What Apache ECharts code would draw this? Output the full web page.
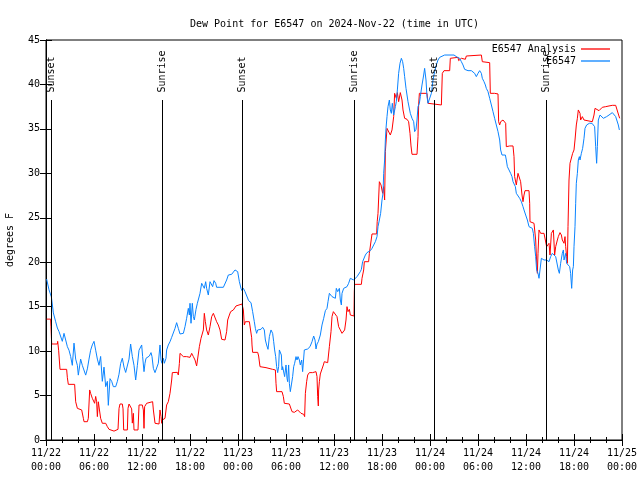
<!DOCTYPE html>
<html><head><meta charset="utf-8">
<script src="https://cdn.jsdelivr.net/npm/echarts@6/dist/echarts.min.js"></script>
<style>html,body{margin:0;padding:0;background:#fff}#c{width:640px;height:480px}</style>
</head><body><div id="c"></div><script>
const chartTitle = 'Dew Point for E6547 on 2024-Nov-22 (time in UTC)';
const seriesNames = ['E6547 Analysis', 'E6547'];
const yAxisName = 'degrees F';
const startMonth = 11, startDay = 22;
// [hours since 2024-11-22 00:00 UTC, dew point F]
const analysis = [[0.08,13.6],[0.58,13.6],[0.62,12.8],[0.67,12.8],[0.71,10.8],[1.42,10.8],[1.46,11.1],[1.54,11.1],[1.58,10.1],[1.71,10.1],[1.75,7.95],[2.58,7.95],[2.67,7.0],[2.79,6.26],[3.58,6.26],[3.71,4.3],[3.92,3.56],[4.12,3.38],[4.46,3.38],[4.58,3.2],[4.67,2.44],[4.75,2.06],[5.17,2.06],[5.29,2.44],[5.46,5.63],[5.58,5.25],[5.79,4.69],[5.92,4.9],[6.08,4.13],[6.21,4.9],[6.33,4.3],[6.42,2.63],[6.54,4.3],[6.75,4.13],[6.83,2.44],[7.04,1.88],[7.46,1.88],[7.67,1.5],[7.88,1.2],[8.5,1.0],[9.0,1.2],[9.13,3.56],[9.25,4.05],[9.54,4.05],[9.63,3.5],[9.71,1.13],[10.17,1.13],[10.25,3.56],[10.38,4.05],[10.63,4.05],[10.71,3.5],[10.79,1.9],[10.92,3.0],[11.0,1.13],[11.5,1.13],[11.63,3.94],[12.04,3.94],
[12.17,3.38],[12.25,1.31],[12.33,3.75],[12.58,4.13],[12.79,4.31],[13.33,4.31],[13.42,3.38],[13.63,1.88],[14.13,1.8],[14.25,3.38],[14.38,2.63],[14.46,1.88],[14.54,2.25],[14.75,2.25],[14.875,2.44],[15.08,3.94],[15.29,4.31],[15.5,5.25],[15.71,6.75],[15.79,7.58],[16.42,7.61],[16.54,7.31],[16.67,8.6],[16.75,9.75],[16.96,9.56],[17.17,9.38],[17.375,9.19],[17.58,9.38],[17.79,9.56],[18.0,9.3],[18.21,9.75],[18.42,9.38],[18.625,9.0],[18.83,8.33],[19.04,8.33],[19.17,10.5],[19.375,11.44],[19.58,11.63],[19.67,12.38],[19.79,14.25],[19.92,13.31],[20.08,12.38],[20.29,11.81],[20.5,12.75],[20.71,13.88],[20.92,14.25],[21.125,14.44],[21.33,13.31],[21.54,12.94],[21.75,12.38],[21.96,11.33],[22.17,11.33],[22.375,11.25],[22.58,12.19],[22.71,13.5],[22.92,14.06],[23.08,14.44],[23.42,14.63],
[23.75,15.08],[23.96,15.3],[24.5,15.3],[24.58,15.19],[24.67,14.63],[24.79,12.94],[24.92,13.31],[25.42,13.31],[25.625,13.13],[25.71,11.5],[25.75,10.69],[25.83,9.86],[26.46,9.86],[26.58,9.45],[26.75,8.25],[26.875,8.14],[27.5,8.14],[27.625,7.99],[28.33,7.95],[28.67,7.88],[28.75,6.38],[28.83,5.44],[29.5,5.44],[29.67,4.88],[29.79,4.13],[30.42,4.05],[30.54,3.94],[30.75,3.19],[31.04,3.11],[31.25,3.0],[31.46,3.38],[31.67,3.26],[31.875,3.0],[32.08,3.19],[32.21,2.89],[32.33,2.63],[32.42,5.25],[32.58,6.56],[32.71,7.31],[32.92,7.58],[33.125,7.5],[33.33,7.58],[33.54,7.5],[33.75,7.69],[33.875,7.13],[33.96,4.88],[34.04,3.83],[34.08,5.63],[34.17,6.56],[34.29,7.43],[34.5,7.5],[34.67,8.44],[34.79,8.81],[35.0,8.63],[35.21,8.7],[35.42,10.5],[35.625,12.19],[35.75,13.88],[35.92,14.44],
[35.96,14.55],[36.17,14.44],[36.375,13.88],[36.58,12.75],[36.79,12.38],[37.0,12.0],[37.21,11.93],[37.33,12.38],[37.5,13.5],[37.625,15.0],[37.75,14.44],[37.92,14.7],[38.04,14.06],[38.25,13.95],[38.5,13.95],[38.54,16.69],[38.58,17.51],[39.42,17.51],[39.5,18.19],[39.71,19.13],[39.79,20.06],[40.33,20.06],[40.42,21.0],[40.67,21.0],[40.75,23.18],[41.33,23.18],[41.4,24.56],[41.5,25.5],[41.67,29.06],[41.875,28.69],[42.08,27.75],[42.2,28.5],[42.33,27.0],[42.42,32.44],[42.625,35.06],[42.83,34.88],[43.04,34.31],[43.25,34.88],[43.46,36.38],[43.58,39.0],[43.79,38.44],[43.92,39.08],[44.08,38.06],[44.29,39.08],[44.5,38.25],[44.625,37.13],[44.83,36.19],[45.125,36.08],[45.33,35.81],[45.42,36.0],[45.5,34.5],[45.625,33.08],[45.75,32.14],[46.375,32.14],[46.5,34.13],[46.58,37.69],[46.67,39.0],[47.625,39.0],
[47.75,37.88],[47.96,37.69],[49.42,37.69],[49.54,41.25],[49.75,41.55],[50.46,41.55],[50.54,42.94],[50.67,43.05],[51.5,43.05],[51.58,42.68],[51.83,42.68],[51.92,42.94],[52.125,42.75],[52.42,42.83],[52.54,43.2],[52.67,43.31],[54.42,43.31],[54.54,42.56],[55.46,42.45],[55.54,39.0],[56.08,39.0],[56.17,38.81],[56.5,38.93],[56.58,35.81],[56.71,35.44],[56.83,35.81],[57.125,36.0],[57.33,35.81],[57.46,35.63],[57.54,33.0],[57.75,33.0],[57.96,33.08],[58.375,33.08],[58.5,31.88],[58.58,29.63],[58.79,28.69],[59.0,30.0],[59.21,29.81],[59.33,29.06],[59.5,27.56],[59.625,26.81],[59.75,27.56],
[59.875,28.05],[60.375,28.05],[60.46,26.63],[60.5,24.56],[60.67,24.38],[61.0,24.38],[61.125,24.45],[61.21,22.5],[61.29,20.81],[61.42,18.75],[61.5,21.0],[61.625,23.63],[61.75,23.7],[61.83,23.25],[62.04,23.18],[62.25,23.25],[62.46,23.06],[62.58,21.75],[62.75,21.75],[62.875,22.13],[63.0,20.81],[63.17,23.25],[63.29,23.44],[63.42,23.63],[63.58,20.81],[63.71,21.75],[63.92,22.5],[64.04,22.88],[64.25,23.33],[64.42,23.06],[64.54,22.5],[64.67,22.69],[64.75,22.13],[64.875,22.88],[64.96,21.75],[65.08,20.63],[65.17,19.88],[65.25,24.0],[65.375,29.25],[65.5,31.13],[65.67,31.31],[65.83,32.25],[66.0,32.63],[66.125,33.75],[66.29,35.44],[66.42,36.19],[66.54,37.13],[66.67,37.13],[66.75,36.75],[66.83,36.0],[67.04,36.38],[67.25,36.0],[67.46,35.81],[68.29,35.81],[68.5,36.56],[68.625,37.31],[68.83,37.13],[69.125,37.05],[69.33,37.2],[69.54,37.43],[69.75,37.5],[69.96,37.5],[70.375,37.58],[70.79,37.65],[71.21,37.65],[71.42,37.58],[71.58,36.56],[71.71,36.19]];
const observed = [[0.08,18.1],[0.375,16.9],[0.67,16.1],[0.92,14.3],[1.21,13.3],[1.42,12.6],[1.625,12.2],[1.83,12.0],[2.04,11.1],[2.25,12.0],[2.46,11.8],[2.67,10.5],[2.875,10.1],[3.08,9.4],[3.29,8.4],[3.5,10.9],[3.71,9.1],[3.92,8.4],[4.04,7.3],[4.33,9.1],[4.54,8.4],[4.75,8.2],[4.96,7.3],[5.17,8.0],[5.375,9.1],[5.58,10.1],[5.79,10.7],[6.0,11.1],[6.21,10.1],[6.42,9.1],[6.625,8.4],[6.83,9.4],[7.04,6.6],[7.25,8.2],[7.46,6.0],[7.67,6.6],[7.79,3.9],[8.0,6.9],[8.21,6.6],[8.42,6.0],[8.71,6.0],[8.92,6.6],[9.125,7.4],[9.33,8.6],[9.54,9.2],[9.75,8.2],[9.96,7.6],[10.17,7.6],[10.375,9.1],[10.58,10.8],[10.79,9.4],[11.0,8.4],[11.21,6.75],[11.42,8.4],[11.625,10.1],
[11.75,10.31],[11.96,10.69],[12.08,9.38],[12.25,7.69],[12.375,8.63],[12.5,9.19],[12.67,9.0],[12.92,9.45],[13.125,9.83],[13.25,9.38],[13.42,8.06],[13.625,7.58],[13.83,7.69],[14.04,8.63],[14.25,10.69],[14.375,9.0],[14.5,8.63],[14.67,9.19],[14.79,8.63],[15.0,9.19],[15.08,10.13],[15.29,10.69],[15.5,11.06],[15.71,11.55],[15.92,11.63],[16.125,12.56],[16.33,13.2],[16.54,12.56],[16.75,11.93],[16.96,11.93],[17.17,12.0],[17.375,12.75],[17.58,13.69],[17.79,14.81],[17.92,14.06],[18.0,15.38],[18.125,13.13],[18.29,15.38],[18.42,13.88],[18.54,13.5],[18.75,14.7],[18.92,15.38],[19.04,15.56],[19.25,16.5],[19.46,17.63],[19.67,17.81],[19.79,17.06],[19.96,17.81],[20.08,17.06],[20.29,16.31],[20.5,17.81],[20.71,18.0],[20.83,17.25],[21.0,17.93],[21.21,17.63],[21.33,17.18],[21.75,17.18],[22.17,17.18],[22.375,17.33],[22.58,18.0],[22.79,18.56],[23.21,18.64],[23.42,18.75],[23.625,19.13],
[23.75,19.2],[23.96,18.94],[24.17,17.81],[24.375,17.06],[24.5,16.8],[24.67,17.06],[24.875,16.69],[25.08,16.5],[25.33,15.68],[25.625,15.45],[25.83,14.44],[26.04,13.31],[26.17,12.56],[26.33,12.0],[26.46,12.38],[26.67,12.56],[26.875,12.45],[27.08,12.68],[27.29,12.38],[27.42,11.25],[27.58,10.69],[27.75,10.2],[27.92,11.63],[28.125,12.38],[28.25,12.56],[28.33,12.0],[28.46,11.06],[28.58,10.13],[28.71,9.38],[28.83,8.25],[28.96,7.58],[29.08,8.25],[29.17,10.13],[29.29,10.13],[29.42,9.56],[29.5,7.88],[29.58,8.25],[29.71,8.44],[29.83,7.13],[30.0,8.44],[30.125,6.94],[30.21,6.56],[30.33,8.44],[30.42,6.38],[30.54,5.44],[30.67,6.19],[30.83,7.13],[30.96,8.25],[31.08,8.63],[31.25,9.38],[31.375,9.0],[31.5,9.38],[31.67,9.0],[31.79,8.44],[31.96,9.0],[32.08,7.69],[32.29,10.13],[32.5,10.2],[32.71,10.24],[33.0,10.5],[33.25,11.06],[33.46,11.7],[33.625,11.25],[33.75,10.24],[33.875,10.8],[34.04,11.06],[34.29,11.81],[34.5,12.94],[34.71,13.69],[34.92,14.55],[35.125,14.81],[35.25,15.56],[35.42,16.5],[35.625,16.31],
[35.75,16.13],[35.96,16.2],[36.17,15.94],[36.29,17.06],[36.46,16.69],[36.67,17.06],[36.79,15.75],[36.92,15.19],[37.0,16.5],[37.21,17.06],[37.42,17.06],[37.625,17.25],[37.83,17.63],[38.04,18.19],[38.25,18.3],[38.46,18.0],[38.67,17.81],[38.875,18.38],[39.08,18.56],[39.29,18.94],[39.42,19.2],[39.58,20.06],[39.79,20.25],[39.92,20.81],[40.125,21.08],[40.33,21.19],[40.54,21.3],[40.75,21.56],[40.96,21.94],[41.17,22.31],[41.375,22.88],[41.5,24.0],[41.67,24.75],[41.83,25.5],[42.0,27.0],[42.125,27.75],[42.21,30.0],[42.33,31.5],[42.42,33.75],[42.5,35.06],[42.625,36.38],[42.75,37.5],[42.92,38.25],[43.04,37.13],[43.17,36.75],[43.29,37.88],[43.46,36.56],[43.58,36.38],[43.67,37.5],[43.79,38.06],[43.92,39.38],[44.08,41.25],[44.25,42.38],[44.42,42.94],[44.58,42.56],[44.71,41.81],[44.83,40.88],[45.0,39.56],[45.25,38.06],[45.42,37.88],[45.54,36.75],[45.75,36.19],[45.96,35.81],[46.08,34.69],[46.25,34.95],[46.375,36.0],[46.5,37.5],[46.67,37.88],[46.79,38.63],[47.0,39.94],[47.21,41.06],[47.33,41.81],[47.5,40.5],[47.625,38.63],
[47.75,37.88],[47.96,38.06],[48.17,39.0],[48.375,40.5],[48.58,41.44],[48.79,42.19],[49.0,42.75],[49.21,43.05],[49.42,43.2],[49.83,43.31],[51.0,43.31],[51.17,43.13],[51.42,43.05],[51.71,42.94],[51.92,42.56],[52.125,42.19],[52.33,41.7],[52.54,41.63],[52.75,41.55],[52.96,41.7],[53.17,41.55],[53.375,41.7],[53.58,41.25],[53.79,40.88],[54.0,41.25],[54.21,41.55],[54.42,41.25],[54.54,40.69],[54.75,40.31],[54.92,39.94],[55.04,39.56],[55.25,39.19],[55.46,38.44],[55.67,37.69],[55.875,36.94],[56.08,36.19],[56.29,35.44],[56.5,34.69],[56.71,33.75],[56.83,32.63],[57.0,32.06],[57.25,32.25],[57.42,32.06],[57.54,31.5],[57.67,30.75],[57.875,30.38],[58.08,30.0],[58.25,29.63],[58.375,29.06],[58.5,28.88],[58.67,28.5],[58.79,27.75],[59.0,27.56],[59.21,27.19],[59.42,26.81],[59.625,26.25],
[59.75,25.88],[59.96,25.31],[60.17,24.75],[60.375,24.0],[60.58,23.81],[60.79,23.81],[60.92,23.25],[61.08,21.75],[61.21,20.63],[61.33,19.13],[61.5,18.75],[61.625,18.19],[61.75,19.13],[61.92,20.44],[62.04,20.44],[62.25,20.25],[62.46,20.33],[62.58,20.25],[62.75,20.44],[62.875,20.06],[63.08,20.63],[63.29,21.0],[63.5,20.81],[63.71,20.63],[63.92,20.44],[64.04,19.13],[64.17,18.75],[64.33,19.88],[64.54,21.0],[64.67,21.38],[64.75,20.25],[64.96,21.0],[65.08,19.88],[65.25,19.69],[65.46,19.5],[65.58,18.75],[65.71,17.06],[65.83,19.13],[65.92,19.5],[66.0,21.75],[66.125,24.0],[66.21,26.63],[66.29,28.88],[66.42,30.0],[66.54,31.5],[66.67,31.88],[66.75,31.5],[66.92,32.25],[67.08,32.81],[67.25,33.94],[67.375,35.06],[67.58,35.44],[67.75,35.63],[67.92,35.63],[68.08,35.44],[68.25,35.63],[68.42,35.81],[68.58,35.25],[68.71,33.0],[68.83,31.13],[68.92,33.0],[69.04,36.0],[69.25,36.56],[69.46,36.38],[69.67,36.19],[69.83,36.08],[70.08,36.38],[70.375,36.56],[70.58,36.68],[70.79,36.83],[71.0,36.75],[71.21,36.38],[71.42,36.19],[71.54,35.44],[71.67,34.88]];
const sunHours = [0.67, 14.55, 24.55, 38.55, 48.55, 62.55];
const sunLabels = ['Sunset', 'Sunrise', 'Sunset', 'Sunrise', 'Sunset', 'Sunrise'];

const FONT = 'DejaVu Sans Mono';
const lineTop = 38.25;
const pad = n => (n < 10 ? '0' : '') + n;
const xFmt = v => {
  const h = Math.round(v);
  return startMonth + '/' + (startDay + Math.floor(h / 24)) + '\n' + pad(h % 24) + ':00';
};
const txt = {fontFamily: FONT, fontSize: 10, color: '#000'};
const chart = echarts.init(document.getElementById('c'), null, {renderer: 'canvas'});
const xBase = {type: 'value', min: 0, max: 72, interval: 6,
  axisLine: {show: true, lineStyle: {color: '#000', width: 1}},
  axisTick: {show: true, inside: true, length: 6, lineStyle: {color: '#000'}},
  minorTick: {show: true, splitNumber: 3, length: 3, lineStyle: {color: '#000'}},
  splitLine: {show: false}, minorSplitLine: {show: false}};
const yBase = {type: 'value', min: 0, max: 45, interval: 5,
  axisLine: {show: true, lineStyle: {color: '#000', width: 1}},
  axisTick: {show: true, inside: true, length: 6, lineStyle: {color: '#000'}},
  splitLine: {show: false}};
const legendBase = {right: 30, align: 'right', orient: 'vertical', icon: 'rect', itemWidth: 29, itemHeight: 1.3,
  selectedMode: false, textStyle: txt, padding: 0};
chart.setOption({
  animation: false,
  backgroundColor: '#fff',
  textStyle: {fontFamily: FONT},
  title: {text: chartTitle, left: 185, top: 14, textStyle: Object.assign({fontWeight: 'normal'}, txt)},
  grid: {left: 46, right: 18, top: 40, bottom: 40, show: true, borderColor: '#000', borderWidth: 1,
    containLabel: false, outerBoundsMode: 'none'},
  legend: [
    Object.assign({data: [seriesNames[0]], top: 44}, legendBase),
    Object.assign({data: [seriesNames[1]], top: 56}, legendBase)
  ],
  xAxis: [
    Object.assign({}, xBase, {position: 'bottom', axisLabel: Object.assign({formatter: xFmt, margin: 6, lineHeight: 14}, txt)}),
    Object.assign({}, xBase, {position: 'top', axisLabel: {show: false}})
  ],
  yAxis: [
    Object.assign({}, yBase, {position: 'left', name: yAxisName, nameLocation: 'middle', nameGap: 31, nameRotate: 90, nameTextStyle: txt,
      axisLabel: Object.assign({margin: 6}, txt)}),
    Object.assign({}, yBase, {position: 'right', axisLabel: {show: false}})
  ],
  series: [
    {name: seriesNames[0], type: 'line', data: analysis, symbol: 'none', showSymbol: false,
      color: '#ff0000', lineStyle: {color: '#ff0000', width: 1}, z: 3},
    {name: seriesNames[1], type: 'line', data: observed, symbol: 'none', showSymbol: false,
      color: '#0a84ff', lineStyle: {color: '#0a84ff', width: 1}, z: 4},
    {name: 'sun', type: 'scatter', data: sunHours.map((h, i) => [h, lineTop, sunLabels[i]]),
      symbolSize: 1, itemStyle: {color: 'rgba(0,0,0,0)', opacity: 1}, silent: true, z: 5,
      label: Object.assign({show: true, formatter: p => p.data[2], position: 'top', distance: 7,
        rotate: 90, align: 'left', verticalAlign: 'middle', opacity: 1}, txt),
      markLine: {silent: true, symbol: ['none', 'none'], label: {show: false},
        lineStyle: {color: '#000', width: 1, type: 'solid', opacity: 1},
        emphasis: {disabled: true},
        data: sunHours.map(h => [{coord: [h, 0]}, {coord: [h, lineTop]}])}}
  ]
});
</script></body></html>
